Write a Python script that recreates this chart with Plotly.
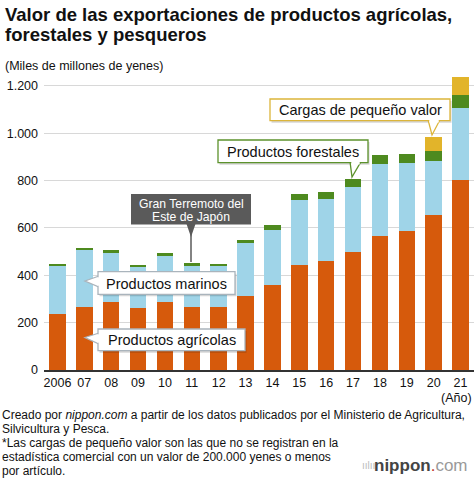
import plotly.graph_objects as go

# ---------------- data (miles de millones de yenes) ----------------
years = ["2006", "07", "08", "09", "10", "11", "12", "13", "14", "15", "16", "17", "18", "19", "20", "21"]
agricolas = [235.9, 267.8, 288.3, 263.7, 286.5, 265.2, 268.0, 313.6, 356.9, 443.1, 459.3, 496.6, 566.1, 587.8, 656.0, 804.1]
marinos = [204.0, 237.8, 207.7, 172.4, 195.0, 173.6, 169.8, 221.6, 233.7, 275.7, 264.0, 274.9, 303.1, 287.3, 227.7, 301.5]
forestales = [9.0, 10.4, 11.8, 9.3, 10.6, 12.3, 11.8, 15.2, 21.1, 26.3, 26.8, 35.5, 37.6, 37.0, 42.9, 57.0]
pequeno = [None] * 14 + [59.4, 75.6]
y_ticks = [0, 200, 400, 600, 800, 1000, 1200]

ORANGE = "#d65a0c"
LBLUE = "#9fd4e8"
GREEN = "#4e8a1f"
YELLOW = "#e2b42a"
DARK = "#5a5a5a"
FONT = "Liberation Sans, Arial, Helvetica, sans-serif"

W, H = 474, 478
L, R, T, B = 44, 0, 74, 108
PW = W - L - R
PH = H - T - B


def px(x):
    return (x - L) / PW


def py(y):
    return (H - B - y) / PH


fig = go.Figure()
for vals, col in [(agricolas, ORANGE), (marinos, LBLUE), (forestales, GREEN), (pequeno, YELLOW)]:
    fig.add_trace(go.Bar(x=years, y=vals, marker=dict(color=col, line=dict(width=0)),
                         showlegend=False, hoverinfo="skip"))

shapes = []
annotations = []


def rect(x0, y0, x1, y1, fill, line=None, lw=0):
    return dict(type="rect", xref="paper", yref="paper", x0=px(x0), x1=px(x1), y0=py(y1), y1=py(y0),
                fillcolor=fill, line=dict(color=line or fill, width=lw), layer="above")


def poly(pts, fill, line=None, lw=0):
    path = "M " + " L ".join(f"{px(a)},{py(b)}" for a, b in pts) + " Z"
    return dict(type="path", xref="paper", yref="paper", path=path, fillcolor=fill,
                line=dict(color=line or fill, width=lw), layer="above")


def text(t, x, y, size, color="#111", xanchor="center", bold=False, yanchor="middle"):
    if bold:
        t = "<b>" + t + "</b>"
    annotations.append(dict(text=t, x=px(x), y=py(y), xref="paper", yref="paper", showarrow=False,
                            xanchor=xanchor, yanchor=yanchor, font=dict(family=FONT, size=size, color=color),
                            align="left"))


# white callouts
callouts = [
    ("Productos marinos", (98, 271.7, 235, 294.3), "#aab4bc",
     [(99, 276), (85, 281), (99, 287)], (97, 277.3, 100, 285.7)),
    ("Productos agrícolas", (98, 329, 245, 350.7), "#aab4bc",
     [(99, 333), (85, 337.5), (99, 344)], (97, 334.3, 100, 342.7)),
    ("Productos forestales", (218, 140, 368, 162.7), "#5c922c",
     [(350, 161.7), (352, 177), (361, 161.7)], (351.3, 161, 359.7, 164.5)),
    ("Cargas de pequeño valor", (270, 99, 450, 120.7), "#dcb53a",
     [(428, 119.7), (432, 135), (440, 119.7)], (429.3, 119, 438.7, 122.5)),
]
for t, (x0, y0, x1, y1), bc, tail, cov in callouts:
    shapes.append(rect(x0 + 1.5, y0 + 2, x1 + 1.5, y1 + 2, "rgba(0,0,0,0.16)"))
    shapes.append(poly(tail, "white", bc, 1.3))
    shapes.append(rect(x0, y0, x1, y1, "white", bc, 1.3))
    shapes.append(rect(*cov, "white"))
    text(t, (x0 + x1) / 2, (y0 + y1) / 2 + 0.5, 14.5)

# earthquake callout
shapes.append(rect(131, 194, 251, 224.5, DARK))
shapes.append(poly([(186.5, 224), (191, 237), (195.5, 224)], DARK))
shapes.append(dict(type="line", xref="paper", yref="paper", x0=px(191), x1=px(191), y0=py(224), y1=py(262),
                   line=dict(color=DARK, width=1.5), layer="above"))
text("Gran Terremoto del", 191, 204, 12.2, color="white")
text("Este de Japón", 191, 216.5, 12.2, color="white")

# titles
text("Valor de las exportaciones de productos agrícolas,", 3, 14.5, 18.5, xanchor="left", bold=True)
text("forestales y pesqueros", 3, 34.5, 18.5, xanchor="left", bold=True)
text("(Miles de millones de yenes)", 3, 66, 12.5, xanchor="left")
text("(Año)", 474, 398, 12.5, xanchor="right")

foot = [
    "Creado por <i>nippon.com</i> a partir de los datos publicados por el Ministerio de Agricultura,",
    "Silvicultura y Pesca.",
    "*Las cargas de pequeño valor son las que no se registran en la",
    "estadística comercial con un valor de 200.000 yenes o menos",
    "por artículo.",
]
for i, line in enumerate(foot):
    text(line, 0, 415 + 14 * i, 12, xanchor="left")

# logo
text("<span style='color:#bbbbbb'>ıılıı</span>", 377, 465, 10, xanchor="right")
text("<b><span style='color:#444444'>nippon</span></b><span style='color:#c0392b'>.</span>"
     "<span style='color:#9a9a9a'>com</span>", 470, 465, 17, xanchor="right")

fig.update_layout(
    width=W, height=H,
    margin=dict(l=L, r=R, t=T, b=B, pad=0),
    paper_bgcolor="white", plot_bgcolor="white",
    barmode="stack", bargap=0.39,
    separators=",.",
    font=dict(family=FONT, color="#111"),
    xaxis=dict(type="category", showgrid=False, showline=True, linecolor="#333333", linewidth=2,
               ticks="", tickfont=dict(size=12.5, color="#111"), fixedrange=True),
    yaxis=dict(range=[0, 1250], tickvals=y_ticks, tickformat=",d", showgrid=True, gridcolor="#d8d8d8",
               gridwidth=1, zeroline=False, showline=False, ticks="", ticklabelstandoff=5,
               tickfont=dict(size=12.5, color="#111"), fixedrange=True),
    shapes=shapes,
    annotations=annotations,
)

fig.write_html("out.html", config={"displayModeBar": False},
               post_script="document.body.style.margin='0';document.body.style.overflow='hidden';")
